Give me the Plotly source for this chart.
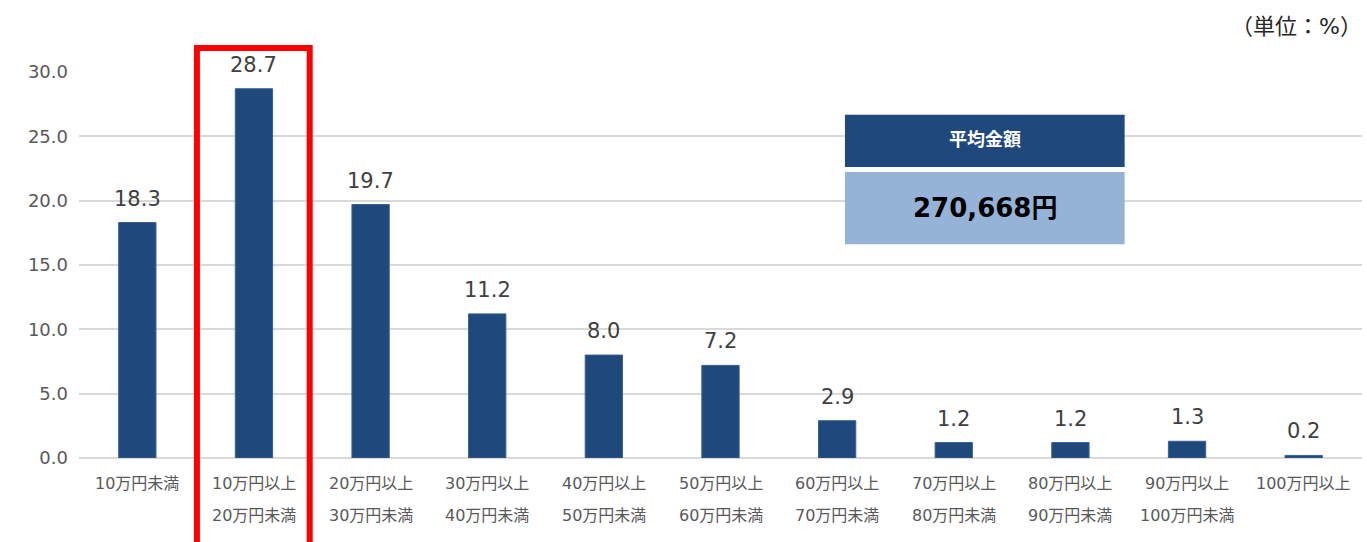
import plotly.graph_objects as go

line1 = ["10万円未満", "10万円以上", "20万円以上", "30万円以上", "40万円以上", "50万円以上",
         "60万円以上", "70万円以上", "80万円以上", "90万円以上", "100万円以上"]
line2 = ["", "20万円未満", "30万円未満", "40万円未満", "50万円未満", "60万円未満",
         "70万円未満", "80万円未満", "90万円未満", "100万円未満", ""]
values = [18.3, 28.7, 19.7, 11.2, 8.0, 7.2, 2.9, 1.2, 1.2, 1.3, 0.2]
y_ticks = [0, 5, 10, 15, 20, 25, 30]
avg_title = "平均金額"
avg_value = "270,668円"
unit_label = "（単位：%）"
highlight_index = 1

FONT = "DejaVu Sans, Noto Sans CJK JP, sans-serif"
n = len(values)
xs = list(range(n))

fig = go.Figure()
fig.add_trace(go.Bar(
    x=xs, y=values,
    marker=dict(color="#1F497D", line=dict(color="#3A6193", width=1)),
    width=0.32,
    hoverinfo="skip",
))

annotations = []
for i, v in enumerate(values):
    annotations.append(dict(x=i, y=v, xref="x", yref="y", text=f"{v:.1f}",
                            showarrow=False, xanchor="center", yanchor="bottom", yshift=10,
                            font=dict(size=21, color="#404040", family=FONT)))
    annotations.append(dict(x=i, y=0, xref="x", yref="y", text=line1[i],
                            showarrow=False, xanchor="center", yanchor="middle", yshift=-25,
                            font=dict(size=16, color="#595959", family=FONT)))
    if line2[i]:
        annotations.append(dict(x=i, y=0, xref="x", yref="y", text=line2[i],
                                showarrow=False, xanchor="center", yanchor="middle", yshift=-57,
                                font=dict(size=16, color="#595959", family=FONT)))

# average box texts
annotations.append(dict(x=0.706, y=0.824, xref="paper", yref="paper", text=f"<b>{avg_title}</b>",
                        showarrow=False, xanchor="center", yanchor="middle",
                        font=dict(size=18, color="white", family=FONT)))
annotations.append(dict(x=0.706, y=0.648, xref="paper", yref="paper", text=f"<b>{avg_value}</b>",
                        showarrow=False, xanchor="center", yanchor="middle",
                        font=dict(size=26, color="black", family=FONT)))
annotations.append(dict(x=1.0, y=1.117, xref="paper", yref="paper", text=unit_label,
                        showarrow=False, xanchor="right", yanchor="middle", xshift=2,
                        font=dict(size=22, color="#262626", family=FONT)))

shapes = [
    dict(type="rect", xref="paper", yref="paper", x0=0.597, x1=0.815, y0=0.754, y1=0.889,
         fillcolor="#1F497D", line=dict(width=0), layer="above"),
    dict(type="rect", xref="paper", yref="paper", x0=0.597, x1=0.815, y0=0.554, y1=0.741,
         fillcolor="#95B3D7", line=dict(width=0), layer="above"),
    dict(type="rect", xref="paper", yref="paper",
         x0=highlight_index / n + 0.001, x1=(highlight_index + 1) / n - 0.002,
         y0=-0.3, y1=1.062,
         fillcolor="rgba(0,0,0,0)", line=dict(color="#FF0000", width=6), layer="above"),
]

fig.update_layout(
    width=1367, height=542,
    margin=dict(l=79, r=5, t=72, b=84),
    paper_bgcolor="white", plot_bgcolor="white",
    showlegend=False,
    annotations=annotations,
    shapes=shapes,
    xaxis=dict(range=[-0.5, n - 0.5], showticklabels=False, showgrid=False,
               zeroline=False, showline=False, fixedrange=True),
    yaxis=dict(range=[0, 30], tickvals=y_ticks, ticktext=[f"{t:.1f}" for t in y_ticks],
               showgrid=True, gridcolor="#D9D9D9", gridwidth=2, zeroline=True,
               zerolinecolor="#D9D9D9", zerolinewidth=2, showline=False,
               tickfont=dict(size=18, color="#595959", family=FONT), ticklabelstandoff=10,
               fixedrange=True),
)

fig.write_html("out.html", config={"displayModeBar": False},
               post_script="document.body.style.margin='0';document.body.style.overflow='hidden';")
